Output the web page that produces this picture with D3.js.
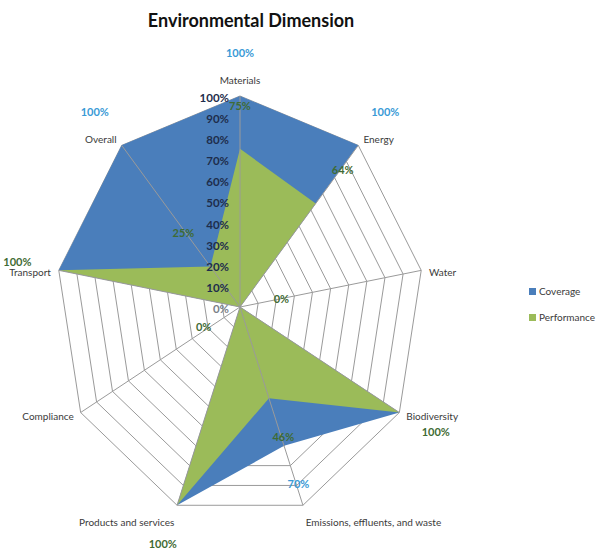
<!DOCTYPE html>
<html>
<head>
<meta charset="utf-8">
<script src="https://cdn.jsdelivr.net/npm/d3@7"></script>
<style>
  html, body { margin: 0; padding: 0; background: #ffffff; }
  svg { display: block; font-family: Lato, "Open Sans", sans-serif; }
</style>
</head>
<body>
<svg id="chart" width="605" height="556"></svg>
<script>
// Environmental dimension: coverage vs performance per GRI aspect
const categories = [
  "Materials", "Energy", "Water", "Biodiversity",
  "Emissions, effluents, and waste", "Products and services",
  "Compliance", "Transport", "Overall"
];
const coverage    = [1.00, 1.00, 0.00, 1.00, 0.70, 1.00, 0.00, 1.00, 1.00];
const performance = [0.75, 0.64, 0.00, 1.00, 0.46, 1.00, 0.00, 1.00, 0.25];
const tickValues  = [0, 0.1, 0.2, 0.3, 0.4, 0.5, 0.6, 0.7, 0.8, 0.9, 1.0];
const tickLabels  = ["0%", "10%", "20%", "30%", "40%", "50%", "60%", "70%", "80%", "90%", "100%"];
const seriesNames = ["Coverage", "Performance"];
const seriesColors = ["#4A7EBB", "#9BBB59"];
const labelColors  = ["#3A9AD6", "#3F6B34"];

const svg = d3.select("#chart");
const cx = 240, cy = 307;

const angle = d3.scaleLinear().domain([0, categories.length]).range([0, 2 * Math.PI]);
const rx = d3.scaleLinear().domain([0, 1]).range([0, 184]);
const ry = d3.scaleLinear().domain([0, 1]).range([0, 211]);
const pct = d3.format(".0%");

function pt(i, v) {
  const a = angle(i);
  return [cx + rx(v) * Math.sin(a), cy - ry(v) * Math.cos(a)];
}
const polyLine = d3.line().curve(d3.curveLinearClosed);

// title
svg.append("text")
  .attr("x", 251).attr("y", 27)
  .attr("text-anchor", "middle")
  .attr("font-size", 18).attr("font-weight", 700)
  .attr("fill", "#111")
  .text("Environmental Dimension");

// concentric rings
const grid = svg.append("g");
tickValues.filter(t => t > 0).forEach(t => {
  grid.append("path")
    .attr("d", polyLine(categories.map((c, i) => pt(i, t))))
    .attr("fill", "none").attr("stroke", "#9a9a9a").attr("stroke-width", 1);
});

// filled series
const series = [coverage, performance];
series.forEach((vals, s) => {
  svg.append("path")
    .attr("d", polyLine(vals.map((v, i) => pt(i, v))))
    .attr("fill", seriesColors[s]).attr("stroke", "none");
});

// spokes on top of fills
categories.forEach((c, i) => {
  const [x, y] = pt(i, 1);
  svg.append("line")
    .attr("x1", cx).attr("y1", cy).attr("x2", x).attr("y2", y)
    .attr("stroke", "#9a9a9a").attr("stroke-width", 1);
});

// radial tick labels along the first axis
svg.append("g").selectAll("text")
  .data(tickValues)
  .join("text")
  .attr("x", cx - 11)
  .attr("y", (t, k) => pt(0, t)[1] + 3)
  .attr("text-anchor", "end")
  .attr("dominant-baseline", "middle")
  .attr("font-size", 11.5).attr("font-weight", 700)
  .attr("fill", (t, k) => k === 0 ? "#7a7f88" : "#1E2D4C")
  .text((t, k) => tickLabels[k]);

// data labels, pushed outward from each vertex; where both series share
// a value the performance label sits on top, so only that one is drawn
series.forEach((vals, s) => {
  const shown = vals.map((v, i) => ({ v, i }))
    .filter(d => s === 1 || coverage[d.i] !== performance[d.i]);
  svg.append("g").selectAll("text")
    .data(shown)
    .join("text")
    .attr("x", d => pt(d.i, d.v)[0] + 42 * Math.sin(angle(d.i)))
    .attr("y", d => pt(d.i, d.v)[1] - 42 * Math.cos(angle(d.i)))
    .attr("text-anchor", "middle")
    .attr("dominant-baseline", "middle")
    .attr("font-size", 11).attr("font-weight", 700)
    .attr("fill", labelColors[s])
    .text(d => pct(d.v));
});

// category labels
svg.append("g").selectAll("text")
  .data(categories)
  .join("text")
  .attr("x", (c, i) => pt(i, 1)[0] + 8 * Math.sin(angle(i)))
  .attr("y", (c, i) => pt(i, 1)[1] - 18 * Math.pow(Math.cos(angle(i)), 3) + 3)
  .attr("text-anchor", (c, i) => {
    const sn = Math.sin(angle(i));
    return sn > 0.1 ? "start" : (sn < -0.1 ? "end" : "middle");
  })
  .attr("dominant-baseline", "middle")
  .attr("font-size", 10)
  .attr("fill", "#3a3a3a")
  .text(c => c);

// legend
const legend = svg.append("g");
seriesNames.forEach((name, s) => {
  const y = 292 + s * 26;
  legend.append("rect")
    .attr("x", 529).attr("y", y - 4).attr("width", 7).attr("height", 7)
    .attr("fill", seriesColors[s]);
  legend.append("text")
    .attr("x", 539).attr("y", y)
    .attr("dominant-baseline", "middle")
    .attr("font-size", 10).attr("fill", "#3a3a3a")
    .text(name);
});
</script>
</body>
</html>
